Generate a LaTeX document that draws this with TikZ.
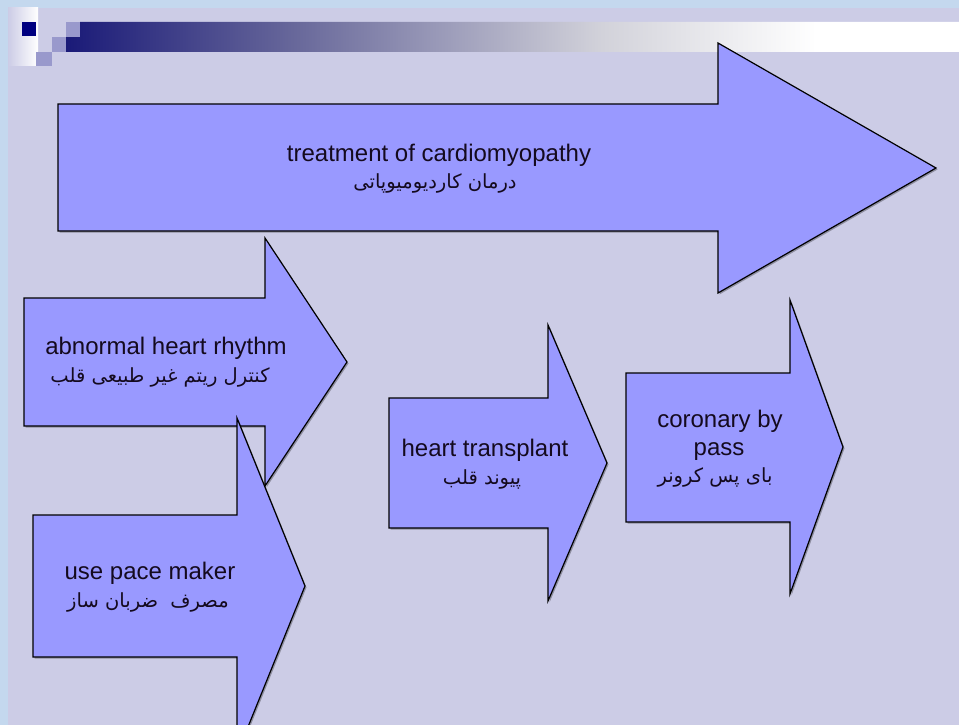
\documentclass[tikz,border=0pt]{standalone}
\usepackage{fontspec}
\setmainfont{Liberation Sans}
\newfontfamily\farsi[Script=Arabic]{DejaVu Sans}
\TeXXeTstate=1
\definecolor{pagebg}{RGB}{204,204,230}
\definecolor{edgeblue}{RGB}{196,216,238}
\definecolor{arrowfill}{RGB}{153,153,255}
\definecolor{bnavy}{RGB}{26,26,120}
\definecolor{bmid}{RGB}{105,105,155}
\definecolor{blight}{RGB}{210,210,218}
\definecolor{sqpurple}{RGB}{153,153,204}
\definecolor{sqnavy}{RGB}{0,0,128}
\definecolor{textdark}{RGB}{20,10,30}
% the path is mapped onto the middle 25bp--75bp of the shading
\pgfdeclarehorizontalshading{bannershade}{100bp}{color(0bp)=(bnavy); color(25bp)=(bnavy); color(38bp)=(bmid); color(55bp)=(blight); color(67bp)=(white); color(100bp)=(white)}
\begin{document}
\begin{tikzpicture}[x=1pt,y=-1pt,
  blockarrow/.style={fill=arrowfill, draw=black, line width=1.2pt, line join=miter},
  arrowshadow/.style={fill=black, opacity=0.3},
  entext/.style={font=\fontsize{24}{28}\selectfont, text=textdark, inner sep=0pt, anchor=base},
  fatext/.style={font=\farsi\fontsize{19.5}{22}\selectfont, text=textdark, inner sep=0pt, anchor=base}]

% page frame
\useasboundingbox (0,0) rectangle (959,725);
\clip (0,0) rectangle (959,725);
\fill[edgeblue] (0,0) rectangle (959,725);
\fill[pagebg] (8,8) rectangle (959,725);

% title banner
\shade[left color=pagebg, right color=white] (8,8) rectangle (38,66);
\shade[shading=bannershade] (80,22) -- (959,22) -- (959,52) -- (66,52) -- (66,37) -- (80,37) -- cycle;
\fill[sqnavy] (22,22) rectangle (36,36);
\fill[sqpurple] (66,22) rectangle (80,37);
\fill[sqpurple] (52,37) rectangle (66,52);
\fill[sqpurple] (36,52) rectangle (52,66);

% treatment of cardiomyopathy
\fill[arrowshadow,shift={(1.5,1.5)}] (58,104) -- (718,104) -- (718,43) -- (936,168) -- (718,293) -- (718,231) -- (58,231) -- cycle;
\draw[blockarrow] (58,104) -- (718,104) -- (718,43) -- (936,168) -- (718,293) -- (718,231) -- (58,231) -- cycle;
\node[entext] (treatEn) at (439,161) {treatment of cardiomyopathy};
\node[fatext] (treatFa) at (435,188) {\beginR درمان کاردیومیوپاتی\endR};

% abnormal heart rhythm
\fill[arrowshadow,shift={(1.5,1.5)}] (24,298) -- (265,298) -- (265,238) -- (347,362) -- (265,486) -- (265,426) -- (24,426) -- cycle;
\draw[blockarrow] (24,298) -- (265,298) -- (265,238) -- (347,362) -- (265,486) -- (265,426) -- (24,426) -- cycle;
\node[entext] (rhythmEn) at (166,354) {abnormal heart rhythm};
\node[fatext] (rhythmFa) at (160,382) {\beginR کنترل ریتم غیر طبیعی قلب\endR};

% use pace maker
\fill[arrowshadow,shift={(1.5,1.5)}] (33,515) -- (237,515) -- (237,418) -- (305,586) -- (237,754) -- (237,657) -- (33,657) -- cycle;
\draw[blockarrow] (33,515) -- (237,515) -- (237,418) -- (305,586) -- (237,754) -- (237,657) -- (33,657) -- cycle;
\node[entext] (paceEn) at (150,579) {use pace maker};
\node[fatext] (paceFa) at (148,607) {\beginR مصرف\ \ ضربان ساز\endR};

% heart transplant
\fill[arrowshadow,shift={(1.5,1.5)}] (389,398) -- (548,398) -- (548,325) -- (607,463) -- (548,601) -- (548,528) -- (389,528) -- cycle;
\draw[blockarrow] (389,398) -- (548,398) -- (548,325) -- (607,463) -- (548,601) -- (548,528) -- (389,528) -- cycle;
\node[entext] (transEn) at (485,456) {heart transplant};
\node[fatext] (transFa) at (482,484) {\beginR پیوند قلب\endR};

% coronary by pass
\fill[arrowshadow,shift={(1.5,1.5)}] (626,373) -- (790,373) -- (790,300) -- (843,447) -- (790,594) -- (790,522) -- (626,522) -- cycle;
\draw[blockarrow] (626,373) -- (790,373) -- (790,300) -- (843,447) -- (790,594) -- (790,522) -- (626,522) -- cycle;
\node[entext] (bypassEn) at (720,427) {coronary by};
\node[entext] (bypassEn2) at (719,455) {pass};
\node[fatext] (bypassFa) at (715,482) {\beginR بای پس کرونر\endR};

\end{tikzpicture}
\end{document}
